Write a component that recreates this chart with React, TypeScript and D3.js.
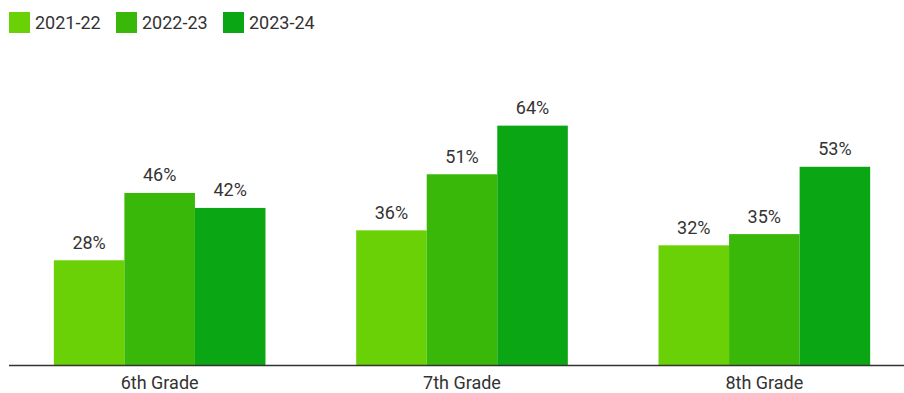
import React from "react";
import * as d3 from "d3";

const categories = ["6th Grade", "7th Grade", "8th Grade"];
const seriesNames = ["2021-22", "2022-23", "2023-24"];
const values2122 = [28, 36, 32];
const values2223 = [46, 51, 35];
const values2324 = [42, 64, 53];
const seriesColors = ["#69d106", "#3ab80a", "#0ba613"];

const W = 904;
const H = 393;
const FONT = "Roboto, 'Noto Sans', sans-serif";
const TEXT = "#333333";

export default function App() {
  const series = [values2122, values2223, values2324];
  const x0 = d3.scaleBand<string>().domain(categories).range([10, 914]).paddingInner(0.3).paddingOuter(0.145);
  const x1 = d3.scaleBand<string>().domain(seriesNames).range([0, x0.bandwidth()]).padding(0);
  const y = d3.scaleLinear().domain([0, 70]).range([365, 103.2]);

  const legendX = [9, 116, 223];

  return (
    <svg width={W} height={H} style={{ position: "absolute", left: 0, top: 0, fontFamily: FONT }}>
      <rect width={W} height={H} fill="#ffffff" />
      {seriesNames.map((s, i) => (
        <g key={s} transform={`translate(${legendX[i]},12)`}>
          <rect width={21} height={21} fill={seriesColors[i]} />
          <text x={26} y={17} fontSize={18} fill={TEXT}>{s}</text>
        </g>
      ))}
      {categories.map((c, ci) => (
        <g key={c} transform={`translate(${x0(c)},0)`}>
          {seriesNames.map((s, si) => {
            const v = series[si][ci];
            const bx = x1(s)!;
            const bw = x1.bandwidth();
            return (
              <g key={s}>
                <rect x={bx} y={y(v)} width={bw} height={y(0) - y(v)} fill={seriesColors[si]} />
                <text x={bx + bw / 2} y={y(v) - 11.5} textAnchor="middle" fontSize={18} fill={TEXT}>{`${v}%`}</text>
              </g>
            );
          })}
          <text x={x0.bandwidth() / 2} y={389} textAnchor="middle" fontSize={18} fill={TEXT}>{c}</text>
        </g>
      ))}
      <line x1={9} x2={W} y1={365.5} y2={365.5} stroke="#333333" strokeWidth={1.5} />
    </svg>
  );
}
